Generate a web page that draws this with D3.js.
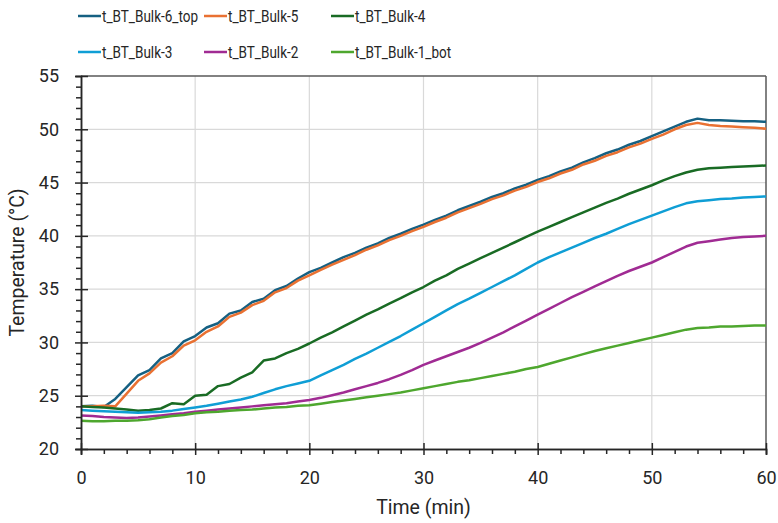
<!DOCTYPE html>
<html>
<head>
<meta charset="utf-8">
<script src="https://cdn.jsdelivr.net/npm/d3@7"></script>
<style>
  body { margin: 0; background: #fff; }
  svg text { fill: #262626; }
</style>
</head>
<body>
<svg id="chart" width="778" height="523"></svg>
<script>
// 時間軸 (min)
const times = [
  0, 1, 2, 3, 4, 5, 6, 7, 8, 9,
  10, 11, 12, 13, 14, 15, 16, 17, 18, 19,
  20, 21, 22, 23, 24, 25, 26, 27, 28, 29,
  30, 31, 32, 33, 34, 35, 36, 37, 38, 39,
  40, 41, 42, 43, 44, 45, 46, 47, 48, 49,
  50, 51, 52, 53, 54, 55, 56, 57, 58, 59,
  60
];

const bulk6 = [
  24.0, 24.05, 23.95, 24.7, 25.8, 26.9, 27.4, 28.5, 29.0, 30.1,
  30.6, 31.4, 31.8, 32.7, 33.0, 33.8, 34.1, 34.9, 35.3, 36.0,
  36.6, 37.0, 37.5, 38.0, 38.4, 38.9, 39.3, 39.8, 40.2, 40.65,
  41.05, 41.5, 41.9, 42.4, 42.8, 43.2, 43.65, 44.0, 44.45, 44.8,
  45.25, 45.6, 46.05, 46.4, 46.9, 47.3, 47.75, 48.1, 48.55, 48.9,
  49.35, 49.8, 50.25, 50.7, 51.0, 50.85, 50.85, 50.8, 50.75, 50.75,
  50.7
];
const bulk5 = [
  24.0, 24.0, 24.05, 24.0, 25.2, 26.4, 27.1, 28.1, 28.7, 29.7,
  30.2, 31.0, 31.5, 32.4, 32.8, 33.5, 33.9, 34.7, 35.1, 35.8,
  36.3, 36.8, 37.3, 37.75, 38.2, 38.7, 39.1, 39.6, 40.0, 40.45,
  40.85, 41.3, 41.7, 42.2, 42.6, 43.0, 43.45, 43.8, 44.25, 44.6,
  45.05, 45.4, 45.85, 46.2, 46.7, 47.05, 47.5, 47.85, 48.3, 48.65,
  49.1, 49.5, 50.0, 50.4, 50.6, 50.4, 50.3, 50.25, 50.2, 50.15,
  50.05
];
const bulk4 = [
  24.0, 23.95, 23.9, 23.8, 23.7, 23.6, 23.65, 23.8, 24.3, 24.2,
  25.0, 25.1, 25.9, 26.1, 26.7, 27.2, 28.3, 28.5, 29.0, 29.4,
  29.9, 30.45, 30.95, 31.5, 32.05, 32.6, 33.1, 33.65, 34.15, 34.7,
  35.2, 35.8, 36.3, 36.9, 37.4, 37.9, 38.4, 38.9, 39.4, 39.9,
  40.4, 40.85, 41.3, 41.75, 42.2, 42.65, 43.1, 43.5, 43.95, 44.35,
  44.75, 45.2, 45.6, 45.95, 46.2, 46.35, 46.4, 46.45, 46.5, 46.55,
  46.6
];
const bulk3 = [
  23.65, 23.6, 23.55, 23.5, 23.45, 23.4, 23.45, 23.5, 23.6, 23.75,
  23.9, 24.05, 24.25, 24.45, 24.65, 24.9, 25.25, 25.6, 25.9, 26.15,
  26.4, 26.9, 27.4, 27.9, 28.45, 28.95, 29.5, 30.05, 30.6, 31.2,
  31.8, 32.4, 33.0, 33.6, 34.1, 34.65, 35.2, 35.75, 36.3, 36.9,
  37.5, 38.0, 38.45, 38.9, 39.35, 39.8, 40.2, 40.65, 41.1, 41.5,
  41.9, 42.3, 42.7, 43.05, 43.25, 43.35, 43.45, 43.5, 43.6, 43.65,
  43.7
];
const bulk2 = [
  23.15, 23.1, 23.0, 22.95, 22.9, 22.95, 23.05, 23.15, 23.25, 23.35,
  23.5, 23.6, 23.7, 23.8, 23.9, 24.0, 24.1, 24.2, 24.3, 24.45,
  24.6, 24.8, 25.05, 25.3, 25.6, 25.9, 26.2, 26.55, 26.95, 27.4,
  27.9, 28.3, 28.7, 29.1, 29.5, 29.95, 30.45, 30.95, 31.5, 32.05,
  32.6, 33.15, 33.7, 34.25, 34.75, 35.25, 35.75, 36.25, 36.7, 37.1,
  37.5, 38.0, 38.5, 39.0, 39.35, 39.5, 39.65, 39.8, 39.9, 39.95,
  40.0
];
const bulk1 = [
  22.65, 22.6, 22.6, 22.65, 22.65, 22.7, 22.8, 22.95, 23.1, 23.2,
  23.35, 23.45, 23.5, 23.6, 23.65, 23.7, 23.8, 23.9, 23.95, 24.05,
  24.1, 24.25, 24.4, 24.55, 24.7, 24.85, 25.0, 25.15, 25.3, 25.5,
  25.7, 25.9, 26.1, 26.3, 26.45, 26.65, 26.85, 27.05, 27.25, 27.5,
  27.7, 28.0, 28.3, 28.6, 28.9, 29.2, 29.45, 29.7, 29.95, 30.2,
  30.45, 30.7, 30.95, 31.2, 31.35, 31.4, 31.5, 31.5, 31.55, 31.6,
  31.6
];

const seriesNames = ['t_BT_Bulk-6_top', 't_BT_Bulk-5', 't_BT_Bulk-4', 't_BT_Bulk-3', 't_BT_Bulk-2', 't_BT_Bulk-1_bot'];
const seriesValues = [bulk6, bulk5, bulk4, bulk3, bulk2, bulk1];
const seriesColors = ['#156082', '#E97132', '#196B24', '#0F9ED5', '#A02B93', '#4EA72E'];

const xTicks = [0, 10, 20, 30, 40, 50, 60];
const yTicks = [20, 25, 30, 35, 40, 45, 50, 55];

// レイアウト
const plot = { left: 81, right: 766, top: 76, bottom: 449 };
const axisFont = 'Roboto, "Noto Sans", sans-serif';

const svg = d3.select('#chart');

const x = d3.scaleLinear().domain([0, 60]).range([plot.left, plot.right]);
const y = d3.scaleLinear().domain([20, 55]).range([plot.bottom, plot.top]);

// グリッド
const grid = svg.append('g');
grid.selectAll('line.gx')
  .data(xTicks.slice(1, -1))
  .join('line')
  .attr('x1', d => x(d)).attr('x2', d => x(d))
  .attr('y1', plot.top).attr('y2', plot.bottom)
  .attr('stroke', '#d9d9d9').attr('stroke-width', 1.2);
grid.selectAll('line.gy')
  .data(yTicks.slice(1, -1))
  .join('line')
  .attr('x1', plot.left).attr('x2', plot.right)
  .attr('y1', d => y(d)).attr('y2', d => y(d))
  .attr('stroke', '#d9d9d9').attr('stroke-width', 1.2);

// 枠
svg.append('line')
  .attr('x1', plot.left).attr('x2', plot.right)
  .attr('y1', plot.top).attr('y2', plot.top)
  .attr('stroke', '#595959').attr('stroke-width', 1.5);
svg.append('line')
  .attr('x1', plot.right).attr('x2', plot.right)
  .attr('y1', plot.top).attr('y2', plot.bottom)
  .attr('stroke', '#595959').attr('stroke-width', 1.5);

// 系列
const line = d3.line()
  .x(d => x(d[0]))
  .y(d => y(d[1]));

const plotArea = svg.append('g');
seriesValues.forEach((vals, i) => {
  const pts = times.map((t, j) => [t, vals[j]]);
  plotArea.append('path')
    .datum(pts)
    .attr('fill', 'none')
    .attr('stroke', seriesColors[i])
    .attr('stroke-width', 2.5)
    .attr('stroke-linejoin', 'round')
    .attr('d', line);
});

// 軸 (補助目盛り)
const minorX = d3.range(0, 61, 2).filter(d => d % 10 !== 0);
const minorY = d3.range(20, 56, 1).filter(d => d % 5 !== 0);

const xAxisMinor = svg.append('g')
  .attr('transform', `translate(0,${plot.bottom})`)
  .call(d3.axisBottom(x).tickValues(minorX).tickSize(5).tickFormat(''));
const yAxisMinor = svg.append('g')
  .attr('transform', `translate(${plot.left},0)`)
  .call(d3.axisLeft(y).tickValues(minorY).tickSize(5).tickFormat(''));

const xAxis = svg.append('g')
  .attr('transform', `translate(0,${plot.bottom})`)
  .call(d3.axisBottom(x).tickValues(xTicks).tickSize(6).tickPadding(16));
xAxis.selectAll('.tick line').attr('y1', -6);

const yAxis = svg.append('g')
  .attr('transform', `translate(${plot.left},0)`)
  .call(d3.axisLeft(y).tickValues(yTicks).tickSize(6).tickPadding(16));
yAxis.selectAll('.tick line').attr('x1', 7);

[xAxisMinor, yAxisMinor, xAxis, yAxis].forEach(g => {
  g.select('.domain').attr('stroke', '#262626').attr('stroke-width', 1.5);
  g.selectAll('.tick line').attr('stroke', '#262626').attr('stroke-width', 1.5);
});

xAxis.selectAll('text')
  .attr('font-family', axisFont).attr('font-size', 18).attr('fill', '#262626');
yAxis.selectAll('text')
  .attr('font-family', axisFont).attr('font-size', 18).attr('fill', '#262626');

// 軸タイトル
svg.append('text')
  .attr('x', (plot.left + plot.right) / 2)
  .attr('y', 514)
  .attr('text-anchor', 'middle')
  .attr('font-family', axisFont)
  .attr('font-size', 19.5)
  .text('Time (min)');

svg.append('text')
  .attr('transform', `translate(24,${(plot.top + plot.bottom) / 2}) rotate(-90)`)
  .attr('text-anchor', 'middle')
  .attr('font-family', axisFont)
  .attr('font-size', 19.5)
  .text('Temperature (°C)');

// 凡例 (細身の書体の代わりに横幅を詰める)
const legendCols = [78, 204, 331];
const legendRows = [16, 52];
const legend = svg.append('g')
  .selectAll('g')
  .data(seriesNames)
  .join('g')
  .attr('transform', (d, i) => `translate(${legendCols[i % 3]},${legendRows[Math.floor(i / 3)]})`);

legend.append('line')
  .attr('x1', 0).attr('x2', 23)
  .attr('y1', 0).attr('y2', 0)
  .attr('stroke', (d, i) => seriesColors[i])
  .attr('stroke-width', 2.5);

legend.append('text')
  .attr('x', 24)
  .attr('y', 6)
  .attr('font-family', axisFont)
  .attr('font-size', 16.5)
  .text(d => d)
  .each(function () {
    const w = this.getComputedTextLength();
    d3.select(this)
      .attr('textLength', w * 0.82)
      .attr('lengthAdjust', 'spacingAndGlyphs');
  });
</script>
</body>
</html>
